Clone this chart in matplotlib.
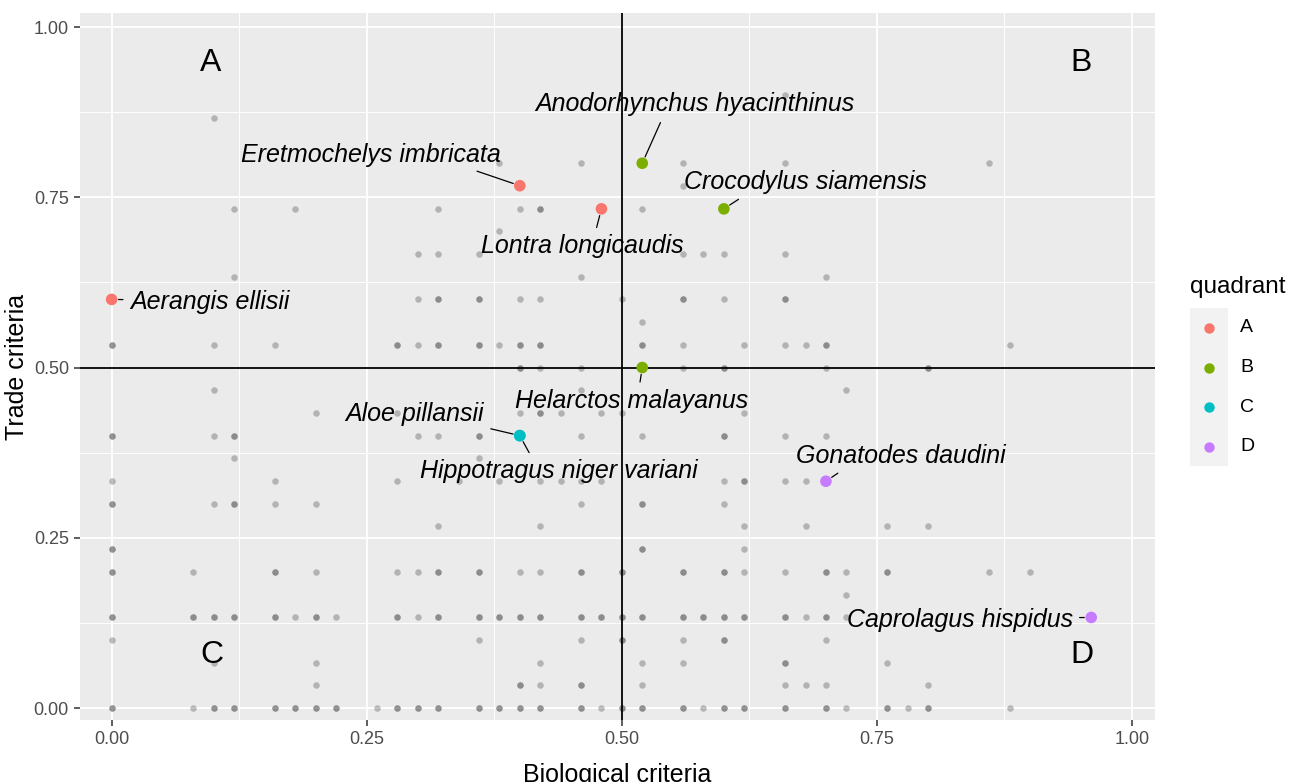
"""
quadrant plot of species by biological and trade criteria
"""

import matplotlib.pyplot as plt
from matplotlib.lines import Line2D
from matplotlib.patches import Rectangle

plt.rcParams["font.family"] = ["Liberation Sans", "DejaVu Sans"]

# background species (grey), n = how many overlap at that spot
bg_x = [0, 0.08, 0.1, 0.12, 0.16, 0.18, 0.2, 0.22, 0.26, 0.28, 0.3, 0.32, 0.36, 0.38, 0.4, 0.42, 0.46, 0.48, 0.5, 0.52, 0.56, 0.58, 0.6, 0.62, 0.66, 0.7, 0.72, 0.76, 0.78, 0.8, 0.88,
        0.2, 0.4, 0.42, 0.46, 0.52, 0.66, 0.68, 0.7, 0.8,
        0.1, 0.2, 0.42, 0.52, 0.56, 0.66, 0.76,
        0, 0.36, 0.46, 0.5, 0.56, 0.6, 0.7,
        0, 0.08, 0.1, 0.12, 0.16, 0.18, 0.2, 0.22, 0.28, 0.3, 0.32, 0.36, 0.38, 0.4, 0.42, 0.46, 0.48, 0.5, 0.52, 0.56, 0.58, 0.6, 0.62, 0.66, 0.68, 0.7, 0.72,
        0.72,
        0, 0.08, 0.16, 0.2, 0.28, 0.3, 0.32, 0.36, 0.4, 0.42, 0.46, 0.5, 0.56, 0.6, 0.62, 0.66, 0.7, 0.72, 0.76, 0.86, 0.9,
        0, 0.52, 0.62,
        0.32, 0.42, 0.62, 0.68, 0.76, 0.8,
        0, 0.1, 0.12, 0.16, 0.2, 0.46, 0.52, 0.6,
        0, 0.16, 0.28, 0.34, 0.38, 0.42, 0.44, 0.46, 0.48, 0.6, 0.62, 0.66, 0.68,
        0.12, 0.36,
        0, 0.1, 0.12, 0.3, 0.32, 0.36, 0.46, 0.52, 0.6, 0.66, 0.7,
        0.2, 0.28, 0.4, 0.42, 0.44, 0.48, 0.5, 0.62,
        0.1, 0.46, 0.72,
        0.4, 0.42, 0.46, 0.56, 0.6, 0.7, 0.8,
        0, 0.1, 0.16, 0.28, 0.3, 0.32, 0.36, 0.38, 0.4, 0.42, 0.52, 0.56, 0.62, 0.66, 0.68, 0.7, 0.88,
        0.52,
        0.3, 0.32, 0.36, 0.4, 0.42, 0.5, 0.56, 0.6, 0.66,
        0.12, 0.46, 0.7,
        0.3, 0.32, 0.36, 0.56, 0.58, 0.6, 0.66,
        0.38,
        0.12, 0.18, 0.32, 0.4, 0.42, 0.52,
        0.56,
        0.38, 0.46, 0.56, 0.66, 0.86,
        0.1,
        0.66]
bg_y = ([0] * 31 + [1 / 30] * 9 + [2 / 30] * 7 + [3 / 30] * 7 + [4 / 30] * 27
        + [5 / 30] + [6 / 30] * 21 + [7 / 30] * 3 + [8 / 30] * 6 + [9 / 30] * 8
        + [10 / 30] * 13 + [11 / 30] * 2 + [12 / 30] * 11 + [13 / 30] * 8
        + [14 / 30] * 3 + [15 / 30] * 7 + [16 / 30] * 17 + [17 / 30]
        + [18 / 30] * 9 + [19 / 30] * 3 + [20 / 30] * 7 + [21 / 30]
        + [22 / 30] * 6 + [23 / 30] + [24 / 30] * 5 + [26 / 30] + [27 / 30])
bg_n = [2, 1, 2, 2, 2, 2, 2, 2, 1, 2, 2, 2, 2, 2, 2, 2, 2, 1, 2, 2, 2, 1, 2, 2, 2, 2, 1, 2, 1, 2, 1,
        1, 2, 1, 2, 1, 1, 1, 1, 1,
        1, 1, 1, 1, 1, 2, 1,
        1, 1, 1, 2, 1, 2, 1,
        2, 2, 2, 2, 2, 1, 2, 1, 2, 1, 2, 2, 2, 2, 2, 2, 2, 2, 2, 2, 2, 2, 2, 2, 1, 2, 1,
        1,
        2, 1, 2, 1, 1, 1, 2, 2, 1, 1, 2, 2, 2, 2, 1, 1, 2, 1, 2, 1, 1,
        2, 2, 1,
        1, 1, 1, 1, 1, 1,
        2, 1, 2, 1, 1, 1, 2, 1,
        1, 1, 1, 1, 1, 1, 1, 1, 1, 1, 2, 1, 1,
        1, 1,
        2, 1, 2, 1, 1, 2, 1, 1, 2, 1, 1,
        1, 1, 1, 2, 1, 1, 1, 1,
        1, 1, 1,
        2, 1, 1, 1, 2, 1, 2,
        2, 1, 1, 2, 1, 2, 2, 1, 2, 2, 2, 1, 1, 1, 1, 2, 1,
        1,
        1, 2, 2, 1, 1, 1, 2, 1, 2,
        1, 1, 1,
        1, 1, 1, 1, 1, 1, 1,
        1,
        1, 1, 1, 1, 2, 1,
        1,
        1, 1, 1, 1, 1,
        1,
        1]

# highlighted species
species = ["Anodorhynchus hyacinthinus", "Eretmochelys imbricata", "Crocodylus siamensis",
           "Lontra longicaudis", "Aerangis ellisii", "Helarctos malayanus", "Aloe pillansii",
           "Hippotragus niger variani", "Gonatodes daudini", "Caprolagus hispidus"]
sp_x = [0.52, 0.40, 0.60, 0.48, 0.0, 0.52, 0.40, 0.40, 0.70, 0.96]
sp_y = [0.80, 0.767, 0.733, 0.733, 0.60, 0.50, 0.40, 0.40, 0.333, 0.133]
sp_quad = ["B", "A", "B", "A", "A", "B", "C", "C", "D", "D"]

# where the repelled labels ended up
lab_x = [0.572, 0.254, 0.680, 0.461, 0.096, 0.510, 0.297, 0.438, 0.773, 0.831]
lab_y = [0.887, 0.812, 0.772, 0.678, 0.596, 0.451, 0.432, 0.348, 0.370, 0.129]

quadrants = ["A", "B", "C", "D"]
quad_colors = ["#F8766D", "#7CAE00", "#00BFC4", "#C77CFF"]
quad_pos_x = [0.097, 0.950, 0.098, 0.951]
quad_pos_y = [0.947, 0.947, 0.078, 0.078]

if __name__ == "__main__":
    fig = plt.figure(figsize=(12.9, 7.82), dpi=100)
    ax = fig.add_axes([80 / 1290, 1 - 720 / 782, 1075 / 1290, 707 / 782])

    # grey points, drawn n times so overlaps go darker
    gx = [x for x, n in zip(bg_x, bg_n) for _ in range(n)]
    gy = [y for y, n in zip(bg_y, bg_n) for _ in range(n)]
    ax.scatter(gx, gy, s=22, color="#333333", alpha=0.3, linewidths=0, zorder=2)

    ax.axvline(0.5, color="black", lw=1.3, zorder=3)
    ax.axhline(0.5, color="black", lw=1.3, zorder=3)

    cmap = dict(zip(quadrants, quad_colors))
    ax.scatter(sp_x, sp_y, s=70, c=[cmap[q] for q in sp_quad], linewidths=0, zorder=4)

    for q, qx, qy in zip(quadrants, quad_pos_x, quad_pos_y):
        ax.text(qx, qy, q, fontsize=23, ha="center", va="center", color="black")

    # ggplot grey theme
    ax.set_facecolor("#EBEBEB")
    for s in ax.spines.values():
        s.set_visible(False)
    ax.set_xlim(-0.031, 1.0225)
    ax.set_ylim(-0.0176, 1.0206)
    ticks = [0, 0.25, 0.5, 0.75, 1.0]
    ax.set_xticks(ticks)
    ax.set_yticks(ticks)
    ax.set_xticklabels([f"{t:.2f}" for t in ticks])
    ax.set_yticklabels([f"{t:.2f}" for t in ticks])
    ax.set_xticks([0.125, 0.375, 0.625, 0.875], minor=True)
    ax.set_yticks([0.125, 0.375, 0.625, 0.875], minor=True)
    ax.grid(which="major", color="white", lw=1.3, zorder=0)
    ax.grid(which="minor", color="white", lw=0.7, zorder=0)
    ax.set_axisbelow(True)
    ax.tick_params(which="major", length=4, width=1.1, color="#333333",
                   labelsize=13, labelcolor="#4D4D4D", pad=4)
    ax.tick_params(which="minor", length=0)
    ax.set_xlabel("Biological criteria", fontsize=18, labelpad=11)
    ax.set_ylabel("Trade criteria", fontsize=18, labelpad=3)

    # labels first, then a segment from the label edge to its point (roughly like ggrepel)
    labels = []
    for name, lx, ly in zip(species, lab_x, lab_y):
        labels.append(ax.text(lx, ly, name, fontsize=18, style="italic",
                              ha="center", va="center", color="black", zorder=5))
    fig.canvas.draw()
    for t, name, x, y, lx, ly in zip(labels, species, sp_x, sp_y, lab_x, lab_y):
        bb = t.get_window_extent()
        px, py = ax.transData.transform((x, y))
        # nearest point of the label box
        nx = min(max(px, bb.x0), bb.x1)
        ny = min(max(py, bb.y0), bb.y1)
        # where the centre-to-point line leaves the box
        cx, cy = (bb.x0 + bb.x1) / 2, (bb.y0 + bb.y1) / 2
        dx, dy = px - cx, py - cy
        k = min(bb.width / 2 / abs(dx) if dx else 1e9, bb.height / 2 / abs(dy) if dy else 1e9)
        ex, ey = cx + k * dx, cy + k * dy
        sx, sy = (nx + ex) / 2, (ny + ey) / 2
        rel = ((sx - bb.x0) / bb.width, (sy - bb.y0) / bb.height)
        t.remove()
        ax.annotate(name, xy=(x, y), xytext=(lx, ly), fontsize=18, style="italic",
                    ha="center", va="center", color="black", zorder=5,
                    arrowprops=dict(arrowstyle="-", color="black", lw=0.9,
                                    shrinkA=3, shrinkB=5, relpos=rel))

    # legend, ggplot style
    fig.text(1190 / 1290, 1 - 287 / 782, "quadrant", fontsize=17.5, va="center", ha="left")
    fig.add_artist(Rectangle((1190 / 1290, 1 - 466 / 782), 38 / 1290, 158 / 782,
                             transform=fig.transFigure, color="#F2F2F2", lw=0))
    for i, (q, c) in enumerate(zip(quadrants, quad_colors)):
        ky = 1 - (328 + 39.5 * i) / 782
        fig.add_artist(Line2D([1209 / 1290], [ky], marker="o", markersize=7.5,
                              color=c, markeredgewidth=0, transform=fig.transFigure))
        fig.text(1240 / 1290, ky, q, fontsize=14, va="center", ha="left")

    fig.savefig("out.png", dpi=100)
